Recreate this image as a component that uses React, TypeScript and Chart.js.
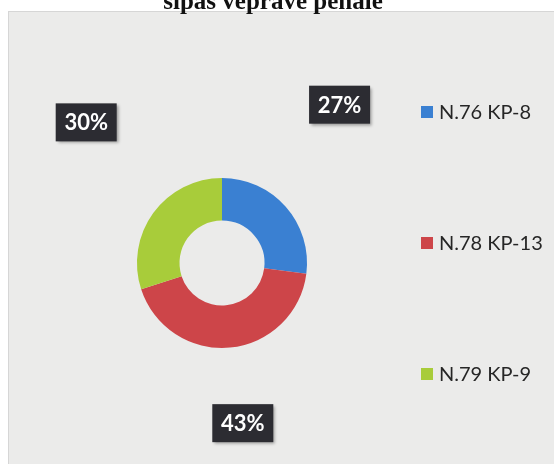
import React, { useEffect, useRef } from "react";
import { Chart, registerables } from "chart.js";

Chart.register(...registerables);

const titleText = "sipas veprave penale";
const categories = ["N.76 KP-8", "N.78 KP-13", "N.79 KP-9"];
const values = [27, 43, 30];
const percentLabels = ["27%", "43%", "30%"];
const colors = ["#3a80d2", "#cd4549", "#a8cc3a"];
// label placement relative to each slice's mid angle
const labelAngleShift = [-12, -2, 10];
const labelRadiusFactor = [2.32, 1.9, 2.3];

const W = 554;
const H = 464;

const decorPlugin = {
  id: "decor",
  beforeDraw(chart: any) {
    const ctx = chart.ctx;
    ctx.save();
    ctx.fillStyle = "#ffffff";
    ctx.fillRect(0, 0, W, H);
    ctx.fillStyle = "#ebebea";
    ctx.fillRect(8, 11, W - 8, H - 11);
    ctx.strokeStyle = "#d6d6d6";
    ctx.lineWidth = 1;
    ctx.strokeRect(8.5, 11.5, W - 8, H - 11);
    ctx.restore();
  },
  afterDatasetsDraw(chart: any) {
    const ctx = chart.ctx;
    const meta = chart.getDatasetMeta(0);
    ctx.save();
    meta.data.forEach((arc: any, i: number) => {
      const p = arc.getProps(["x", "y", "startAngle", "endAngle", "outerRadius"], true);
      const mid = (p.startAngle + p.endAngle) / 2 + (labelAngleShift[i] * Math.PI) / 180;
      const r = p.outerRadius * labelRadiusFactor[i];
      const cx = p.x + Math.cos(mid) * r;
      const cy = p.y + Math.sin(mid) * r;
      const bw = 61;
      const bh = 38;
      ctx.save();
      ctx.shadowColor = "rgba(0,0,0,0.35)";
      ctx.shadowOffsetX = 2;
      ctx.shadowOffsetY = 2;
      ctx.shadowBlur = 3;
      ctx.fillStyle = "#2c2c32";
      ctx.fillRect(cx - bw / 2, cy - bh / 2, bw, bh);
      ctx.restore();
      ctx.fillStyle = "#ffffff";
      ctx.font = "bold 22px Lato";
      ctx.textAlign = "center";
      ctx.textBaseline = "middle";
      ctx.fillText(percentLabels[i], cx, cy + 1);
    });

    // legend
    const legendX = 421;
    const legendY = [112, 243, 374];
    categories.forEach((c, i) => {
      ctx.fillStyle = colors[i];
      ctx.fillRect(legendX, legendY[i] - 6, 12, 12);
      ctx.fillStyle = "#262626";
      ctx.font = "20px Lato";
      ctx.textAlign = "left";
      ctx.textBaseline = "middle";
      ctx.fillText(c, legendX + 18, legendY[i] + 1);
    });

    // title (partly cut off at top)
    ctx.fillStyle = "#111111";
    ctx.font = "bold 25px 'Liberation Serif'";
    ctx.textAlign = "center";
    ctx.textBaseline = "alphabetic";
    ctx.fillText(titleText, 273, 9);
    ctx.restore();
  },
};

export default function App() {
  const ref = useRef<HTMLCanvasElement | null>(null);
  useEffect(() => {
    if (!ref.current) return;
    const chart = new Chart(ref.current, {
      type: "doughnut",
      data: {
        labels: categories,
        datasets: [
          {
            data: values,
            backgroundColor: colors,
            borderWidth: 0,
          },
        ],
      },
      options: {
        responsive: false,
        animation: false,
        cutout: "50%",
        layout: { padding: { left: 137, right: 247, top: 178, bottom: 116 } },
        plugins: {
          legend: { display: false },
          tooltip: { enabled: false },
          title: { display: false },
        },
      },
      plugins: [decorPlugin],
    });
    return () => chart.destroy();
  }, []);
  return (
    <div style={{ position: "absolute", left: 0, top: 0, width: W, height: H }}>
      <canvas ref={ref} width={W} height={H} style={{ display: "block" }} />
    </div>
  );
}
